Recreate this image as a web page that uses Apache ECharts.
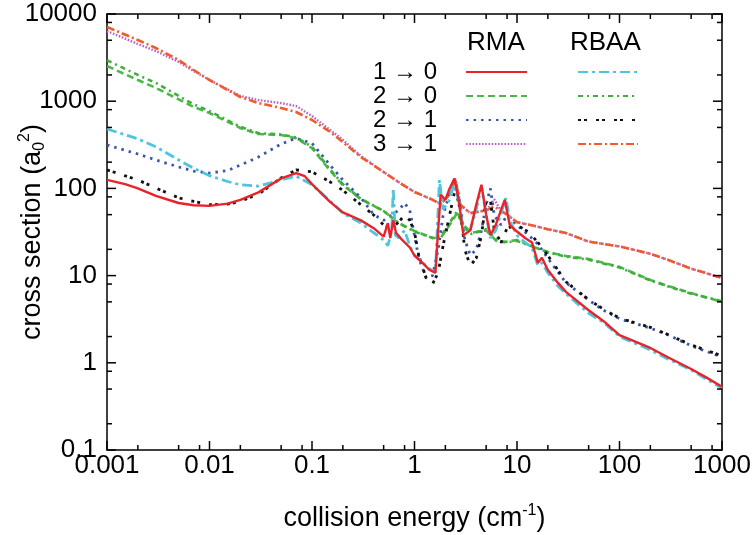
<!DOCTYPE html>
<html>
<head>
<meta charset="utf-8">
<script src="https://cdn.jsdelivr.net/npm/echarts@6/dist/echarts.min.js"></script>
<style>html,body{margin:0;padding:0;background:#fff}#c{width:753px;height:535px}</style>
</head>
<body>
<div id="c"></div>
<script>
// ---- data (collision energy in cm^-1, cross section in a0^2) ----
const xMajorTicks = [0.001, 0.01, 0.1, 1, 10, 100, 1000];
const xMinorTicks = [0.002,0.005,0.008,0.02,0.05,0.08,0.2,0.5,0.8,2,5,8,20,50,80,200,500,800];
const yMajorTicks = [0.1, 1, 10, 100, 1000, 10000];
const yMinorTicks = [0.2,0.5,0.8,2,5,8,20,50,80,200,500,800,2000,5000,8000];

const rma10 = [[0.001,125],[0.0015,112],[0.002,100],[0.003,82],[0.005,68],[0.007,64],[0.01,63],[0.015,67],[0.02,74],[0.03,90],[0.05,130],[0.07,150],[0.085,138],[0.1,112],[0.15,70],[0.2,53],[0.3,43],[0.4,35],[0.5,28],[0.55,40],[0.58,27],[0.62,43],[0.66,31],[0.75,26],[0.9,21],[1.0,17],[1.2,14],[1.4,11.6],[1.6,10.8],[1.7,33],[1.8,85],[2.0,74],[2.2,100],[2.45,130],[2.7,74],[3.0,29],[3.5,33],[4.0,65],[4.5,110],[5.0,50],[5.5,29],[6.2,38],[7.0,57],[7.6,74],[8.5,38],[10,32],[12,27],[14,24],[16,14],[17.5,16],[20,11.6],[25,8.3],[30,6.5],[50,4.0],[70,3.0],[100,2.08],[200,1.48],[300,1.15],[500,0.85],[700,0.68],[1000,0.53]];
const rbaa10 = [[0.001,480],[0.002,370],[0.003,300],[0.005,212],[0.007,170],[0.01,140],[0.015,120],[0.02,110],[0.03,106],[0.05,125],[0.07,138],[0.1,110],[0.15,72],[0.2,52],[0.3,40],[0.4,31],[0.5,25.6],[0.55,22],[0.6,33],[0.62,100],[0.65,29],[0.7,27],[0.8,33],[0.9,22],[1.0,17],[1.2,14],[1.4,12],[1.6,10.8],[1.75,125],[1.9,57],[2.2,74],[2.4,110],[2.7,74],[3.0,33],[3.5,33],[4.0,57],[4.5,105],[5.0,50],[5.5,27],[6.2,33],[7.0,52],[7.8,78],[8.5,43],[10,29],[12,24],[14,21],[16,13],[17.5,14],[20,10.8],[25,7.6],[30,6.2],[50,3.7],[70,2.9],[100,2.0],[200,1.4],[300,1.1],[500,0.83],[700,0.65],[1000,0.51]];
const rma20 = [[0.001,2530],[0.002,1750],[0.003,1420],[0.005,1050],[0.007,860],[0.01,733],[0.02,493],[0.03,420],[0.05,410],[0.07,376],[0.1,290],[0.15,160],[0.2,109],[0.3,75],[0.5,55],[0.7,40],[1.0,32.5],[1.5,27],[1.8,27],[2.2,38],[2.6,52],[3.0,38],[3.6,31],[5.0,33],[6.5,24],[8,24.5],[10,25.6],[15,21],[20,18.6],[30,16.8],[50,15.5],[100,12.6],[200,8.9],[300,7.6],[500,6.3],[1000,5.0]];
const rbaa20 = [[0.001,2950],[0.002,2000],[0.003,1620],[0.005,1150],[0.007,920],[0.01,770],[0.02,510],[0.03,430],[0.05,415],[0.07,385],[0.1,300],[0.15,165],[0.2,112],[0.3,76],[0.5,55],[0.7,40],[1.0,32],[1.5,27],[1.8,28],[2.2,40],[2.6,55],[3.0,36],[3.6,30],[5.0,34],[6.5,25],[8,24],[10,25],[15,21],[20,18.6],[30,16.5],[50,15.2],[100,12.4],[200,8.8],[300,7.5],[500,6.2],[1000,5.1]];
const rma21 = [[0.001,315],[0.002,248],[0.003,212],[0.005,176],[0.007,158],[0.01,150],[0.015,160],[0.02,185],[0.03,229],[0.05,323],[0.07,376],[0.1,330],[0.15,185],[0.2,125],[0.3,78],[0.4,50],[0.5,43],[0.6,50],[0.7,56],[0.8,68],[0.9,56],[1.0,29],[1.1,15.8],[1.3,9.4],[1.5,10],[1.7,19.7],[1.9,49],[2.2,88],[2.5,125],[2.8,65],[3.1,25.6],[3.5,17.2],[4.0,19.7],[4.5,33],[5.0,65],[5.5,100],[6.0,49],[7.0,38],[8.0,49],[10,38],[13,29],[16,23],[20,15.8],[30,8.3],[50,5.25],[70,4.0],[100,3.2],[200,2.5],[300,2.08],[500,1.57],[1000,1.16]];
const rbaa21 = [[0.001,163],[0.002,125],[0.003,101],[0.005,78],[0.007,71],[0.01,65],[0.015,66],[0.02,71],[0.03,86],[0.05,132],[0.07,163],[0.1,155],[0.15,119],[0.2,95],[0.3,65],[0.4,49.5],[0.5,38],[0.6,35],[0.7,41],[0.8,49.5],[0.9,43],[1.0,31.6],[1.1,17],[1.3,9.4],[1.5,8.0],[1.7,10.8],[1.9,22],[2.2,49.5],[2.5,100],[2.8,56],[3.1,19.7],[3.5,13],[4.0,15.8],[4.5,29],[5.0,74],[5.5,74],[6.0,33],[7.0,24],[8.0,35],[10,38],[13,31.6],[16,24],[20,17],[30,8.5],[50,5.3],[70,4.1],[100,3.25],[200,2.55],[300,2.1],[500,1.6],[1000,1.2]];
const rma31 = [[0.001,6380],[0.002,4530],[0.003,3760],[0.005,2820],[0.007,2220],[0.01,1750],[0.02,1150],[0.03,1030],[0.05,950],[0.07,880],[0.1,676],[0.15,470],[0.2,360],[0.3,235],[0.5,154],[0.7,118],[1.0,91],[1.5,74],[1.8,66],[2.2,85],[2.5,130],[2.8,65],[3.5,52],[5,56],[6,75],[7,55],[8,50],[10,41],[15,37],[20,34],[30,30.8],[50,24.5],[100,21.6],[200,17.8],[300,15.1],[500,12.0],[1000,9.4]];
const rbaa31 = [[0.001,7100],[0.002,5035],[0.003,4075],[0.005,2967],[0.007,2278],[0.01,1750],[0.02,1117],[0.03,953],[0.05,836],[0.07,752],[0.1,609],[0.15,445],[0.2,340],[0.3,229],[0.5,154],[0.7,118],[1.0,91],[1.5,74],[1.8,66],[2.2,85],[2.5,125],[2.8,65],[3.5,52],[5,56],[6,62],[8,50],[10,41],[15,37],[20,34],[30,30.8],[50,24.5],[100,21.6],[200,17.8],[300,15.1],[500,12.0],[1000,9.4]];

const FONT = 'Liberation Sans, Arial, Helvetica, sans-serif';
const fmt = v => String(Number(Number(v).toPrecision(3)));
const X0 = 0.001, X1 = 1000, Y0 = 0.1, Y1 = 10000;

function mk(name, data, color, type, width, z) {
  return { name, type: 'line', data, xAxisIndex: 0, yAxisIndex: 0, symbol: 'none', z: z,
    lineStyle: { color, type, width: width || 2.6 }, itemStyle: { color }, animation: false };
}
const series = [
  mk('3 → 1', rma31, '#b866c2', [1.6, 1.6], 2.4, 2),
  mk('RBAA 3 → 1', rbaa31, '#f15a2b', [8, 3, 2, 3], 2.6, 3),
  mk('2 → 0', rma20, '#4cb847', [7, 4], 2.6, 2),
  mk('RBAA 2 → 0', rbaa20, '#3fae3f', [5, 4, 2, 4], 2.6, 3),
  mk('2 → 1', rma21, '#3a56a8', [2.5, 5], 2.8, 2),
  mk('RBAA 2 → 1', rbaa21, '#111111', [3, 3, 3, 9], 2.8, 3),
  mk('RBAA 1 → 0', rbaa10, '#4ec5de', [10, 4, 3, 4], 2.8, 4),
  mk('1 → 0', rma10, '#e8242a', 'solid', 2.4, 5)
];

function logAx(kind, pos, labels) {
  const o = { type: 'log', logBase: 10, position: pos,
    axisLine: { show: true, onZero: false, lineStyle: { color: '#000', width: 1.5 } },
    axisTick: { show: false },
    axisLabel: labels ? { show: true, formatter: fmt, color: '#000', fontSize: 26, fontFamily: FONT } : { show: false },
    splitLine: { show: false }, minorTick: { show: false } };
  if (kind === 'x') { o.min = X0; o.max = X1; o.splitNumber = 6; } else { o.min = Y0; o.max = Y1; o.splitNumber = 5; }
  return o;
}

const xAxes = [logAx('x', 'bottom', true), logAx('x', 'top', false)];
xAxes[0].axisLabel.margin = 3;
xAxes[0].name = '{a|collision energy (cm}{s|-1}{a|)}';
xAxes[0].nameLocation = 'middle';
xAxes[0].nameGap = 53;
xAxes[0].nameMoveOverlap = false;
xAxes[0].nameTextStyle = { rich: { a: { fontSize: 27, fontFamily: FONT, color: '#000', lineHeight: 31 }, s: { fontSize: 16, fontFamily: FONT, color: '#000', verticalAlign: 'top', lineHeight: 16 } } };

const yAxes = [logAx('y', 'left', true), logAx('y', 'right', false)];
yAxes[0].axisLabel.margin = 10;
yAxes[0].name = '{a|cross section (a}{b|0}{s|2}{a|)}';
yAxes[0].nameLocation = 'middle';
yAxes[0].nameRotate = 90;
yAxes[0].nameGap = 59;
yAxes[0].nameMoveOverlap = false;
yAxes[0].nameTextStyle = { rich: { a: { fontSize: 27, fontFamily: FONT, color: '#000', lineHeight: 31 }, s: { fontSize: 16, fontFamily: FONT, color: '#000', verticalAlign: 'top', lineHeight: 16 }, b: { fontSize: 16, fontFamily: FONT, color: '#000', verticalAlign: 'bottom', lineHeight: 16 } } };

const headers = [
  { type: 'text', left: 467, top: 30, style: { text: 'RMA', font: '26px ' + FONT, fill: '#000' } },
  { type: 'text', left: 570, top: 30, style: { text: 'RBAA', font: '26px ' + FONT, fill: '#000' } }
];

const chart = echarts.init(document.getElementById('c'), null, { renderer: 'canvas' });
chart.setOption({
  animation: false,
  backgroundColor: '#fff',
  grid: { left: 107, right: 31, top: 14, bottom: 85, containLabel: false, outerBoundsMode: 'none' },
  xAxis: xAxes,
  yAxis: yAxes,
  legend: [
    { data: ['1 → 0', '2 → 0', '2 → 1', '3 → 1'], orient: 'vertical', align: 'right', left: 373, top: 60, padding: 0,
      itemWidth: 61, itemHeight: 14, itemGap: 0, selectedMode: false, itemStyle: { opacity: 0 },
      formatter: n => '{t|' + n + '}',
      textStyle: { fontSize: 24, fontFamily: FONT, color: '#000',
        rich: { t: { fontSize: 24, fontFamily: FONT, color: '#000', lineHeight: 17, padding: [0, 24, 0, 0] } } } },
    { data: ['RBAA 1 → 0', 'RBAA 2 → 0', 'RBAA 2 → 1', 'RBAA 3 → 1'], orient: 'vertical', align: 'left', left: 577, top: 60, padding: 0,
      itemWidth: 60, itemHeight: 14, itemGap: 0, selectedMode: false, itemStyle: { opacity: 0 },
      formatter: () => '{t|}',
      textStyle: { fontSize: 24, fontFamily: FONT, color: '#000',
        rich: { t: { fontSize: 24, fontFamily: FONT, color: '#000', lineHeight: 17 } } } }
  ],
  graphic: headers,
  series: series
});

// inward tick marks on all four sides, placed through the chart's own log scales
const px = (x, y) => chart.convertToPixel({ gridIndex: 0 }, [x, y]);
const tickEls = [];
const st = { stroke: '#000', lineWidth: 1.5 };
function addX(ticks, len) {
  ticks.forEach(v => {
    const b = px(v, Y0), t = px(v, Y1);
    tickEls.push({ type: 'line', z: 100, silent: true, shape: { x1: b[0], y1: b[1], x2: b[0], y2: b[1] - len }, style: st });
    tickEls.push({ type: 'line', z: 100, silent: true, shape: { x1: t[0], y1: t[1], x2: t[0], y2: t[1] + len }, style: st });
  });
}
function addY(ticks, len) {
  ticks.forEach(v => {
    const l = px(X0, v), r = px(X1, v);
    tickEls.push({ type: 'line', z: 100, silent: true, shape: { x1: l[0], y1: l[1], x2: l[0] + len, y2: l[1] }, style: st });
    tickEls.push({ type: 'line', z: 100, silent: true, shape: { x1: r[0], y1: r[1], x2: r[0] - len, y2: r[1] }, style: st });
  });
}
addX(xMajorTicks, 9); addX(xMinorTicks, 5);
addY(yMajorTicks, 9); addY(yMinorTicks, 5);
chart.setOption({ graphic: headers.concat(tickEls) });
</script>
</body>
</html>
